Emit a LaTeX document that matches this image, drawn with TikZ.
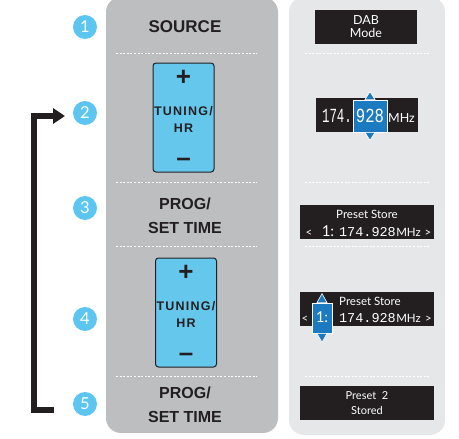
\documentclass[tikz,border=0pt]{standalone}
\usepackage{fontspec}
\setmainfont{Liberation Sans}
\newfontfamily\keyfont[LetterSpace=10]{Liberation Sans}
\newfontfamily\lcdfont{Lato}
\newfontfamily\segfont{Liberation Mono}
\usetikzlibrary{arrows.meta}

\definecolor{panelgray}{RGB}{188,190,192}
\definecolor{panellight}{RGB}{230,231,232}
\definecolor{stepblue}{RGB}{92,197,240}
\definecolor{keyblue}{RGB}{102,199,237}
\definecolor{inkblack}{RGB}{35,31,32}
\definecolor{lcdblue}{RGB}{28,122,192}

\tikzset{
  stepnum/.style={circle, fill=stepblue, text=white, minimum size=24pt, inner sep=0pt,
    font=\lcdfont\fontsize{16.5}{16.5}\selectfont},
  keylabel/.style={text=inkblack, align=center, font=\bfseries\fontsize{16}{24}\selectfont},
  sepline/.style={white, line width=0.9pt, dash pattern=on 2pt off 1.6pt},
  tunekey/.style={draw=inkblack, line width=1pt, fill=keyblue, rounded corners=3pt,
    minimum width=61pt, minimum height=109pt, inner sep=0pt},
  keytext/.style={text=inkblack, inner sep=0pt, font=\keyfont\bfseries\fontsize{12.5}{12.5}\selectfont},
  keysign/.style={text=inkblack, inner sep=0pt, font=\bfseries\fontsize{26}{26}\selectfont},
  lcd/.style={fill=inkblack, text=white, minimum width=134pt, minimum height=34pt,
    inner sep=0pt, align=center, font=\lcdfont\fontsize{11}{15}\selectfont},
  lcdtext/.style={text=white, inner sep=0pt, font=\lcdfont\fontsize{11.5}{11.5}\selectfont},
  segtext/.style={text=white, inner sep=0pt, font=\segfont\fontsize{13.5}{13.5}\selectfont},
  hilite/.style={fill=lcdblue, draw=white, line width=0.8pt, inner sep=0pt},
  pointer/.style={fill=lcdblue, draw=white, line width=0.6pt},
  looparrow/.style={line width=6pt, inkblack, -{Triangle[length=12pt,width=15pt]}}
}

\begin{document}
\begin{tikzpicture}[x=1pt,y=-1pt]
  \useasboundingbox (0,0) rectangle (459,439);

  % the two columns
  \fill[panelgray, rounded corners=15pt] (106,-3) rectangle (278,433);
  \fill[panellight, rounded corners=15pt] (289,-3) rectangle (445,435);

  \foreach \y in {53,182,246,376} {
    \draw[sepline] (116,\y) -- (257,\y);
    \draw[sepline] (305,\y) -- (429,\y);
  }

  % step numbers
  \foreach \n/\y in {1/27,2/113,3/208,4/319,5/404}
    \node[stepnum] (step\n) at (85,\y) {\n};

  % repeat loop 5 -> 2
  \coordinate (loopstart) at (54,410);
  \coordinate (loopend) at (65,116);
  \draw[looparrow] (loopstart) -| (34,116) -- (loopend);

  % buttons
  \node[keylabel, font=\bfseries\fontsize{17}{17}\selectfont] (source) at (185,27) {SOURCE};
  \node[keylabel] (prog1) at (185,215.5) {PROG/\\SET TIME};
  \node[keylabel] (prog2) at (185,404.5) {PROG/\\SET TIME};

  \foreach \k/\x/\y in {1/183.5/117.5, 2/186/312.5} {
    \node[tunekey] (key\k) at (\x,\y) {};
    \node[keysign] (plus\k) at (\x,\y-40) {+};
    \node[keytext] (tune\k) at (\x,\y-6.5) {TUNING/};
    \node[keytext] (hr\k) at (\x,\y+10.5) {HR};
    \node[keysign] (minus\k) at (\x,\y+45) {\textendash};
  }

  % displays
  \node[lcd, minimum width=102pt, font=\lcdfont\fontsize{12.5}{12.5}\selectfont] (lcd1) at (366,26.5) {DAB\\Mode};

  \node[lcd, minimum width=102pt] (lcd2) at (367,115) {};
  \node[segtext, anchor=base, xscale=0.62, font=\segfont\fontsize{20}{20}\selectfont] (freq2) at (337,122) {174.};
  \node[hilite, minimum width=34pt, minimum height=32pt] (hl2) at (370,116) {};
  \node[segtext, anchor=base, xscale=0.78, font=\segfont\fontsize{20}{20}\selectfont] (sel2) at (370,122) {928};
  \node[lcdtext, anchor=base west, font=\lcdfont\fontsize{12.5}{12.5}\selectfont] (mhz2) at (388,122) {MHz};
  \fill[pointer] ([xshift=-5pt]hl2.north) -- ([xshift=5pt]hl2.north) -- ([yshift=8pt]hl2.north) -- cycle;
  \fill[pointer] ([xshift=-5pt]hl2.south) -- ([xshift=5pt]hl2.south) -- ([yshift=-8pt]hl2.south) -- cycle;

  \node[lcd] (lcd3) at (367,222) {};
  \node[lcdtext] (store3) at (367,214) {Preset Store};
  \node[lcdtext, anchor=base] (lt3) at (309,236.5) {<};
  \node[lcdtext, anchor=base, font=\lcdfont\fontsize{15}{15}\selectfont] (num3) at (328,236.5) {1:};
  \node[segtext, anchor=base] (freq3) at (367.5,236.5) {174.928};
  \node[lcdtext, anchor=base west] (mhz3) at (freq3.base east) {MHz};
  \node[lcdtext, anchor=base] (gt3) at (428,236.5) {>};

  \node[lcd] (lcd4) at (367,309) {};
  \node[lcdtext, anchor=west] (store4) at (339,301) {Preset Store};
  \node[lcdtext, anchor=base] (lt4) at (305,322) {<};
  \node[hilite, minimum width=20pt, minimum height=30pt] (hl4) at (322,318) {};
  \node[lcdtext, anchor=base, font=\lcdfont\fontsize{15}{15}\selectfont] (num4) at (322,322.5) {1:};
  \node[segtext, anchor=base] (freq4) at (367.5,322) {174.928};
  \node[lcdtext, anchor=base west] (mhz4) at (freq4.base east) {MHz};
  \node[lcdtext, anchor=base] (gt4) at (428.5,322) {>};
  \fill[pointer] ([xshift=-5pt]hl4.north) -- ([xshift=5pt]hl4.north) -- ([yshift=9pt]hl4.north) -- cycle;
  \fill[pointer] ([xshift=-5pt]hl4.south) -- ([xshift=5pt]hl4.south) -- ([yshift=-9pt]hl4.south) -- cycle;

  \node[lcd] (lcd5) at (367,403) {Preset\ \ 2\\Stored};
\end{tikzpicture}
\end{document}
